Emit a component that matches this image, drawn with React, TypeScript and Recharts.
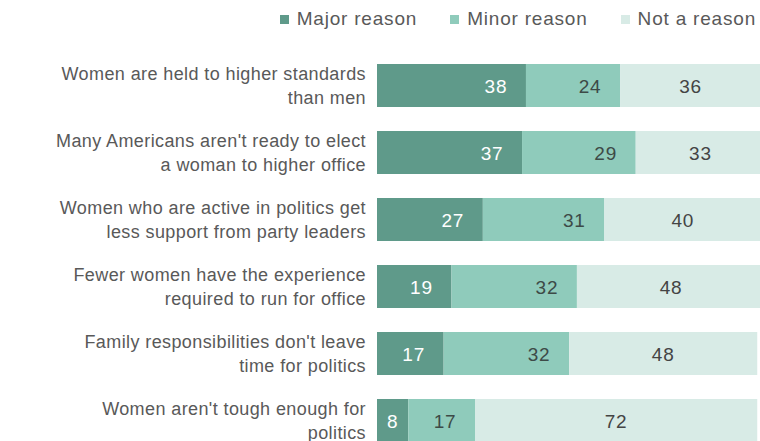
import { Bar, BarChart, LabelList, XAxis, YAxis } from "recharts";

const categories = [
  "Women are held to higher standards|than men",
  "Many Americans aren't ready to elect|a woman to higher office",
  "Women who are active in politics get|less support from party leaders",
  "Fewer women have the experience|required to run for office",
  "Family responsibilities don't leave|time for politics",
  "Women aren't tough enough for|politics",
];
const majorReason = [38, 37, 27, 19, 17, 8];
const minorReason = [24, 29, 31, 32, 32, 17];
const notAReason = [36, 33, 40, 48, 48, 72];

const SERIES = [
  { key: "major", name: "Major reason", fill: "#5f9a8a", text: "#ffffff", inset: true },
  { key: "minor", name: "Minor reason", fill: "#8fcbbb", text: "#3d4a47", inset: true },
  { key: "not", name: "Not a reason", fill: "#d8ebe6", text: "#444444", inset: false },
];

const FONT = "'Liberation Sans', Arial, sans-serif";

const rows = categories.map((c, i) => ({
  category: c,
  major: majorReason[i],
  minor: minorReason[i],
  not: notAReason[i],
}));

function CategoryTick(props: any) {
  const { x, y, payload } = props;
  const lines = String(payload.value).split("|");
  const lh = 24;
  const start = -((lines.length - 1) * lh) / 2;
  return (
    <text
      x={x - 3}
      y={y + start}
      textAnchor="end"
      fill="#595959"
      fontSize={18}
      letterSpacing={0.4}
      fontFamily={FONT}
      dominantBaseline="central"
    >
      {lines.map((l, i) => (
        <tspan key={i} x={x - 3} dy={i === 0 ? 0 : lh}>
          {l}
        </tspan>
      ))}
    </text>
  );
}

// major/minor numbers sit near the right edge of their segment; "not" is centred
function makeLabel(color: string, inset: boolean) {
  return (props: any) => {
    const { x, y, width, height, value } = props;
    const cx = inset ? Math.max(x + width / 2, x + width - 30) : x + width / 2;
    return (
      <text
        x={cx}
        y={y + height / 2 + 1}
        textAnchor="middle"
        dominantBaseline="central"
        fill={color}
        fontSize={19}
        letterSpacing={0.8}
        fontFamily={FONT}
      >
        {value}
      </text>
    );
  };
}

function TopLegend() {
  return (
    <div
      style={{
        position: "absolute",
        top: 8,
        right: 4,
        display: "flex",
        gap: 33,
        fontFamily: FONT,
        fontSize: 19,
        letterSpacing: 0.8,
        color: "#595959",
        lineHeight: "22px",
      }}
    >
      {SERIES.map((s) => (
        <span key={s.key} style={{ display: "inline-flex", alignItems: "center", gap: 8 }}>
          <span style={{ width: 9, height: 9, background: s.fill, display: "inline-block" }} />
          {s.name}
        </span>
      ))}
    </div>
  );
}

export default function App() {
  return (
    <div
      style={{
        position: "absolute",
        left: 0,
        top: 0,
        width: 760,
        height: 441,
        overflow: "hidden",
        background: "#ffffff",
      }}
    >
      <BarChart
        width={769}
        height={454}
        data={rows}
        layout="vertical"
        margin={{ top: 52, right: 0, left: 0, bottom: 0 }}
        barCategoryGap={0}
      >
        <XAxis type="number" domain={[0, 100]} hide />
        <YAxis
          type="category"
          dataKey="category"
          width={377}
          axisLine={false}
          tickLine={false}
          tick={<CategoryTick />}
          interval={0}
        />
        {SERIES.map((s) => (
          <Bar
            key={s.key}
            dataKey={s.key}
            name={s.name}
            stackId="a"
            fill={s.fill}
            barSize={43}
            isAnimationActive={false}
          >
            <LabelList dataKey={s.key} content={makeLabel(s.text, s.inset)} />
          </Bar>
        ))}
      </BarChart>
      <TopLegend />
    </div>
  );
}
